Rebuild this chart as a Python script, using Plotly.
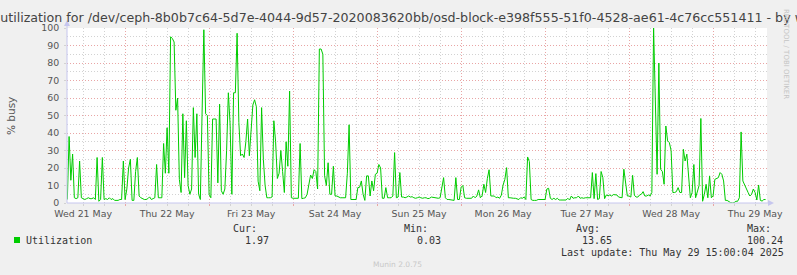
import pandas as pd
import plotly.graph_objects as go

# ---------------- data ----------------
title_text = ("Disk utilization for /dev/ceph-8b0b7c64-5d7e-4044-9d57-2020083620bb/"
              "osd-block-e398f555-51f0-4528-ae61-4c76cc551411 - by week")
y_title = "% busy"
series_name = "Utilization"
start_time = "2025-05-21 07:30"
sample_step = "30min"
x_range = ["2025-05-21 07:24", "2025-05-29 15:24"]

utilization = [
    2, 38, 13, 28, 3, 2.5, 3, 24, 3, 2.5,
    2, 2.5, 3, 2.5, 2.5, 3, 2, 26, 1, 2,
    26, 2, 2.5, 2, 3, 2, 2.5, 1.5, 1.5, 1.5,
    2, 2, 24, 2, 8, 20, 25, 1.5, 1.5, 18,
    26, 4, 3, 2.5, 2, 2, 2.5, 3.5, 2, 2.5,
    3, 22, 3, 3, 3, 34, 17, 43, 17, 95,
    94, 92, 53, 60, 13.5, 6, 51, 14.5, 47, 10,
    5, 8, 54.5, 26, 51, 5, 2, 52, 99, 51,
    50, 5, 3, 48, 48, 48, 11.5, 56.5, 7, 5,
    8, 30, 63, 45, 5, 63, 63, 97, 46, 27,
    28, 26, 35, 48, 27, 41, 56, 59, 55, 12.5,
    7, 54.5, 25, 10, 3, 3, 3, 3.5, 47, 35,
    14, 17, 30, 18, 6, 35, 21, 64, 3, 2.7,
    2.7, 2.7, 2.7, 34, 2.5, 2.7, 3, 5, 10.7, 16,
    14, 19, 18, 8, 88, 88, 85, 15.5, 10, 23,
    5, 5, 21, 4, 4, 3.4, 3, 3, 3, 3,
    17, 44.7, 2, 2, 2, 2, 8.8, 9, 12.6, 5,
    1.5, 15.5, 15.5, 4, 12.6, 7, 16.4, 17, 22, 20,
    2.7, 2.7, 8.8, 3, 3, 3, 4, 28.8, 3, 3.4,
    17.4, 3.4, 3.4, 3, 3.4, 4, 3.4, 3.6, 3, 2.7,
    3, 3.4, 3, 2.7, 3, 3, 2.5, 2.7, 3.4, 3.2,
    2.7, 2.7, 2.7, 3, 8, 14.5, 3, 2, 2, 1.7,
    1.5, 1.5, 14.5, 2, 2, 9, 10, 3, 2.7, 2.7,
    2.7, 2.7, 4, 3, 4, 7.5, 3, 4, 10.7, 6,
    14, 19, 4, 4, 4, 3, 3.4, 2.7, 4.5, 10.3,
    13.5, 20.2, 3, 3, 2.7, 2.7, 2.7, 2.5, 2, 3,
    2.7, 3.4, 2, 26.3, 23.7, 2, 1.5, 1.5, 1.5, 2,
    2, 2, 2, 2, 8, 8.4, 2.7, 2, 2.7, 2,
    2.7, 1.7, 1.7, 1.7, 1.7, 1.7, 2.7, 1.7, 4, 2.7,
    3, 3, 4, 2.7, 3, 2.7, 3, 3, 3, 3,
    17.4, 2.5, 16.8, 2, 2.5, 18, 14.5, 2.5, 4.6, 4.2,
    4.6, 4, 4.8, 4.6, 4.6, 3.4, 3, 3, 19.3, 12.6,
    4, 4, 3.4, 15.8, 4.5, 3.4, 3.4, 4.6, 5, 6.5,
    4, 4, 4.6, 4, 6, 100.24, 55, 16.4, 80, 19.3,
    18, 10.7, 44, 35.5, 34.5, 30, 6, 6, 6.5, 8.8,
    6, 6, 30.7, 24, 27.9, 17.4, 3, 6, 22, 3,
    6, 10, 48.3, 1, 5, 10.7, 3, 15.5, 3, 4,
    13.5, 14, 14.5, 17.4, 16.4, 12.6, 1.5, 1.5, 0.8, 0.2,
    0.03, 0.2, 1, 1, 3, 40.6, 12.6, 10.7, 8, 6,
    4, 5, 8, 6, 1.7, 10.3, 1.5, 1.1, 2, 1.97,
]

stat_labels = ["Cur:", "Min:", "Avg:", "Max:"]
stat_values = ["1.97", "0.03", "13.65", "100.24"]
last_update = "Last update: Thu May 29 15:00:04 2025"
footer_text = "Munin 2.0.75"
watermark = "RRDTOOL / TOBI OETIKER"

times = pd.date_range(start_time, periods=len(utilization), freq=sample_step)

# ---------------- layout geometry (pixels) ----------------
W, H = 797, 275
L, R, T, B = 67, 30, 28, 72
PW, PH = W - L - R, H - T - B
Y0 = T + PH  # pixel row of value 0


def fx(px):
    return (px - L) / PW


def fy(py):
    return (Y0 - py) / PH


SANS = "DejaVu Sans"
MONO = "DejaVu Sans Mono"
GREEN = "#00CC00"
MAJOR = "#e9a5a5"
MINOR = "#d2d2d2"
AXIS = "#c6c6ee"
TXT = "#555555"
DASH = "1px,2px"

fig = go.Figure()
fig.add_trace(go.Scatter(x=times, y=utilization, mode="lines", name=series_name,
                         line=dict(color=GREEN, width=1), showlegend=False,
                         hoverinfo="skip"))

fig.update_layout(
    width=W, height=H,
    margin=dict(l=L, r=R, t=T, b=B, pad=0),
    paper_bgcolor="#f0f0f0", plot_bgcolor="#ffffff",
    showlegend=False,
)

fig.update_xaxes(
    type="date", range=x_range, showline=False, zeroline=False,
    dtick=86400000, tick0="2025-05-22", ticklabelmode="period",
    tickformat="%a %d %b", tickfont=dict(family=SANS, size=9.4, color=TXT),
    ticks="outside", ticklen=2, tickcolor=MAJOR,
    showgrid=True, gridcolor=MAJOR, griddash=DASH, gridwidth=1,
    minor=dict(dtick=6 * 3600000, showgrid=True, gridcolor=MINOR, griddash=DASH,
               ticks="outside", ticklen=2, tickcolor=MINOR),
)
fig.update_yaxes(
    range=[0, 100], dtick=10, tick0=0, showline=False, zeroline=False,
    tickfont=dict(family=SANS, size=9.4, color=TXT),
    ticks="outside", ticklen=2, tickcolor=MINOR, ticklabelstandoff=3,
    showgrid=True, gridcolor=MAJOR, griddash=DASH, gridwidth=1,
    minor=dict(dtick=5, showgrid=True, gridcolor=MINOR, griddash=DASH),
)

shapes = []
# axis lines with arrows
shapes.append(dict(type="line", xref="paper", yref="paper", x0=fx(L), x1=fx(L),
                   y0=fy(Y0), y1=fy(T - 3), line=dict(color=AXIS, width=1), layer="above"))
shapes.append(dict(type="line", xref="paper", yref="paper", x0=fx(L), x1=fx(L + PW + 3),
                   y0=fy(Y0), y1=fy(Y0), line=dict(color=AXIS, width=1), layer="above"))
shapes.append(dict(type="path", xref="paper", yref="paper",
                   path=f"M {fx(L-3)},{fy(T-2)} L {fx(L+3)},{fy(T-2)} L {fx(L)},{fy(T-8)} Z",
                   fillcolor=AXIS, line=dict(width=0)))
shapes.append(dict(type="path", xref="paper", yref="paper",
                   path=f"M {fx(L+PW+1)},{fy(Y0-3)} L {fx(L+PW+1)},{fy(Y0+3)} L {fx(L+PW+7)},{fy(Y0)} Z",
                   fillcolor=AXIS, line=dict(width=0)))
# legend swatch
shapes.append(dict(type="rect", xref="paper", yref="paper", x0=fx(14), x1=fx(20),
                   y0=fy(243), y1=fy(237), fillcolor=GREEN, line=dict(width=0)))
fig.update_layout(shapes=shapes)


def note(text, x, y, size, family, color, xanchor="left", angle=0):
    fig.add_annotation(text=text, x=fx(x), y=fy(y), xref="paper", yref="paper",
                       xanchor=xanchor, yanchor="middle", showarrow=False,
                       textangle=angle, borderpad=0, borderwidth=0,
                       font=dict(family=family, size=size, color=color))


note(title_text, W / 2, 18, 12.65, SANS, "#444444", xanchor="center")
note(y_title, 11, 116, 10.5, SANS, TXT, xanchor="center", angle=-90)
note(watermark, 786, 54, 7, SANS, "#c4c4c4", xanchor="center", angle=90)
note(series_name, 26, 240, 10, MONO, "#333333")
stat_label_x = [233, 404, 576, 747]
stat_value_x = [245, 417, 582, 747]
for lab, val, lx, vx in zip(stat_labels, stat_values, stat_label_x, stat_value_x):
    note(lab, lx, 228, 10, MONO, "#333333")
    note(val, vx, 240, 10, MONO, "#333333")
note(last_update, 561, 252, 10, MONO, "#333333")
note(footer_text, 373, 264, 7.5, SANS, "#c8c8c8")

fig.write_html("out.html")
